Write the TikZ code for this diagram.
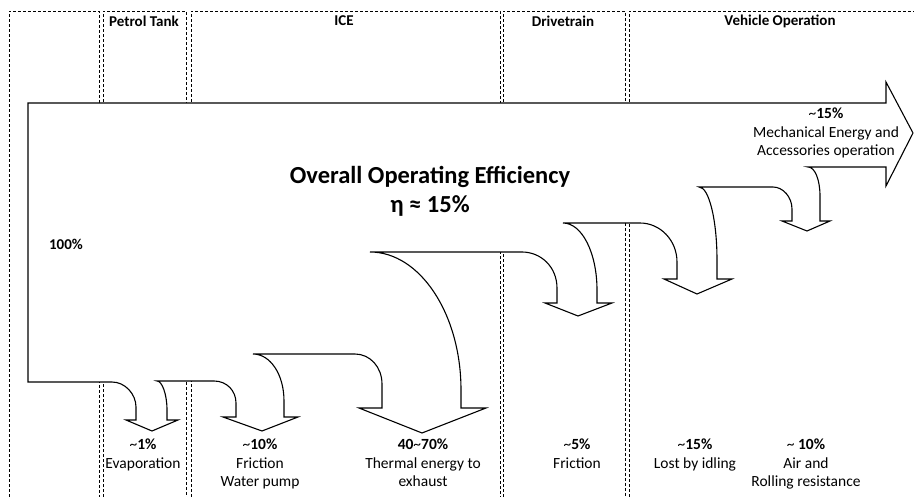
\documentclass[tikz,border=0pt]{standalone}
\usepackage{fontspec}
\setmainfont{Carlito}
\begin{document}
\begin{tikzpicture}[x=1pt,y=-1pt,
  column/.style={draw=black, line width=0.8pt, dash pattern=on 3pt off 2pt},
  flow/.style={draw=black, line width=1.1pt, fill=white, line join=miter},
  header/.style={font=\fontsize{15}{18}\selectfont\bfseries, anchor=center, inner sep=0pt},
  label/.style={font=\fontsize{15.5}{18.3}\selectfont, align=center, anchor=north, inner sep=0pt},
  title/.style={font=\fontsize{24.5}{29}\selectfont\bfseries, align=center, anchor=center, inner sep=0pt}]
\useasboundingbox (0,0) rectangle (914,497);
\newcommand{\tld}{{\mdseries\textasciitilde}}

% stage columns
\draw[column] (9,497) -- (9,11) -- (99,11) -- (99,497);
\draw[column] (103,497) -- (103,11) -- (186,11) -- (186,497);
\draw[column] (191,497) -- (191,11) -- (500,11) -- (500,497);
\draw[column] (503,497) -- (503,11) -- (625,11) -- (625,497);
\draw[column] (629,497) -- (629,11) -- (920,11);

\node[header] (hpetrol) at (144,21) {Petrol Tank};
\node[header] (hice) at (344,21) {ICE};
\node[header] (hdrive) at (563,21) {Drivetrain};
\node[header] (hvehicle) at (780,21) {Vehicle Operation};

% energy flow with its loss branches
\draw[flow] (28,103) -- (886,103) -- (886,82) -- (913,133) -- (886,186) -- (886,167) -- (808,167)
  .. controls (815,167) and (820,180) .. (820,196) -- (820,221) -- (830,221) -- (807,231) -- (782,221) -- (792,221) -- (792,209)
  .. controls (792,197) and (783,187) .. (773,187) -- (699,187)
  .. controls (709,187) and (717,220) .. (717,260) -- (717,279) -- (732,279) -- (697,294) -- (664,279) -- (677,279) -- (677,262)
  .. controls (677,240) and (660,223) .. (640,223) -- (563,223)
  .. controls (582,223) and (597,253) .. (597,290) -- (597,303) -- (612,303) -- (578,316) -- (545,303) -- (557,303) -- (557,288)
  .. controls (557,267) and (541,252) .. (522,252) -- (370,252)
  .. controls (420,252) and (461,314) .. (461,390) -- (461,408) -- (486,408) -- (422,433) -- (359,408) -- (382,408) -- (382,384)
  .. controls (382,367) and (370,354) .. (355,354) -- (253,354)
  .. controls (270,354) and (284,374) .. (284,401) -- (284,417) -- (298,417) -- (262,431) -- (223,417) -- (236,417) -- (236,403)
  .. controls (236,391) and (227,381) .. (214,381) -- (157,381)
  .. controls (162,381) and (167,394) .. (167,410) -- (167,420) -- (178,420) -- (152,431) -- (126,420) -- (136,420) -- (136,407)
  .. controls (136,394) and (125,382) .. (112,382) -- (28,382) -- cycle;

% labels
\node[header] (total) at (66,244) {100\%};
\node[title] (eff) at (430,191) {Overall Operating Efficiency\\η ≈ 15\%};
\node[label] (mech) at (826,108) {\tld\textbf{15\%}\\Mechanical Energy and\\Accessories operation};
\node[label] (evap) at (143,439) {\tld\textbf{1\%}\\Evaporation};
\node[label] (fric) at (260,439) {\tld\textbf{10\%}\\Friction\\Water pump};
\node[label] (therm) at (423,439) {\textbf{40}\tld\textbf{70\%}\\Thermal energy to\\exhaust};
\node[label] (dfric) at (577,439) {\tld\textbf{5\%}\\Friction};
\node[label] (idle) at (695,439) {\tld\textbf{15\%}\\Lost by idling};
\node[label] (air) at (806,439) {\tld\ \textbf{10\%}\\Air and\\Rolling resistance};
\end{tikzpicture}
\end{document}
